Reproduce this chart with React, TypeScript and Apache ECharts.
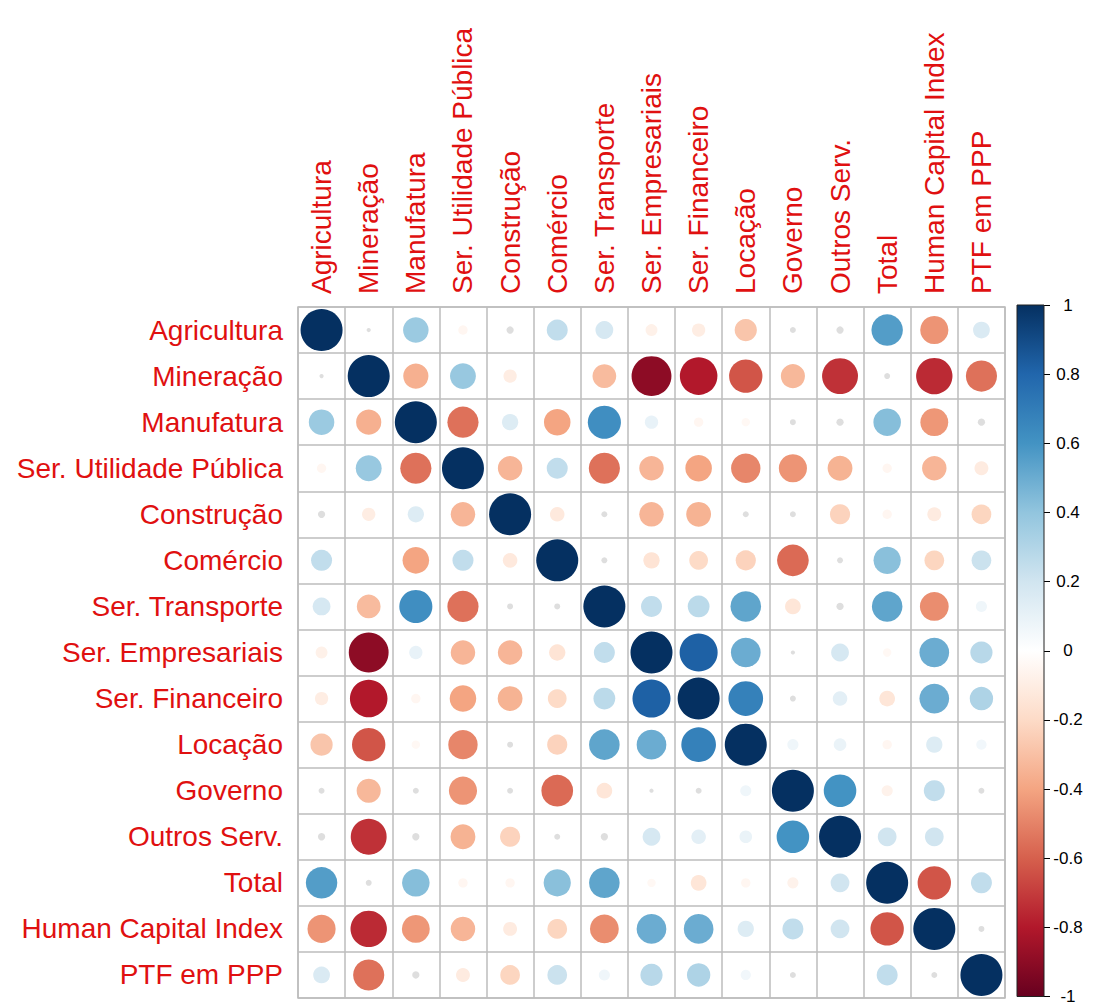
import React, { useEffect, useRef } from "react";
import * as echarts from "echarts";

const categories = [
  "Agricultura",
  "Mineração",
  "Manufatura",
  "Ser. Utilidade Pública",
  "Construção",
  "Comércio",
  "Ser. Transporte",
  "Ser. Empresariais",
  "Ser. Financeiro",
  "Locação",
  "Governo",
  "Outros Serv.",
  "Total",
  "Human Capital Index",
  "PTF em PPP",
];

// correlation rows (symmetric matrix)
const rowAgricultura = [1, 0.01, 0.37, -0.05, 0.03, 0.25, 0.18, -0.08, -0.1, -0.28, -0.02, -0.03, 0.56, -0.45, 0.16];
const rowMineracao = [0.01, 1, -0.36, 0.38, -0.1, 0.0, -0.32, -0.9, -0.8, -0.63, -0.33, -0.73, -0.02, -0.75, -0.55];
const rowManufatura = [0.37, -0.36, 1, -0.55, 0.15, -0.4, 0.62, 0.1, -0.05, -0.04, -0.02, -0.03, 0.43, -0.44, 0.03];
const rowUtilidade = [-0.05, 0.38, -0.55, 1, -0.34, 0.25, -0.55, -0.34, -0.4, -0.49, -0.45, -0.35, -0.05, -0.34, -0.11];
const rowConstrucao = [0.03, -0.1, 0.15, -0.34, 1, -0.12, -0.02, -0.34, -0.35, -0.02, -0.02, -0.23, -0.05, -0.11, -0.22];
const rowComercio = [0.25, 0.0, -0.4, 0.25, -0.12, 1, -0.02, -0.15, -0.2, -0.23, -0.57, -0.02, 0.42, -0.22, 0.22];
const rowTransporte = [0.18, -0.32, 0.62, -0.55, -0.02, -0.02, 1, 0.25, 0.27, 0.53, -0.14, -0.03, 0.53, -0.47, 0.07];
const rowEmpresariais = [-0.08, -0.9, 0.1, -0.34, -0.34, -0.15, 0.25, 1, 0.82, 0.5, 0.01, 0.18, -0.04, 0.5, 0.28];
const rowFinanceiro = [-0.1, -0.8, -0.05, -0.4, -0.35, -0.2, 0.27, 0.82, 1, 0.68, 0.02, 0.12, -0.14, 0.5, 0.31];
const rowLocacao = [-0.28, -0.63, -0.04, -0.49, -0.02, -0.23, 0.53, 0.5, 0.68, 1, 0.07, 0.09, -0.05, 0.15, 0.06];
const rowGoverno = [-0.02, -0.33, -0.02, -0.45, -0.02, -0.57, -0.14, 0.01, 0.02, 0.07, 1, 0.6, -0.07, 0.25, -0.02];
const rowOutros = [-0.03, -0.73, -0.03, -0.35, -0.23, -0.02, -0.03, 0.18, 0.12, 0.09, 0.6, 1, 0.2, 0.2, 0.0];
const rowTotal = [0.56, -0.02, 0.43, -0.05, -0.05, 0.42, 0.53, -0.04, -0.14, -0.05, -0.07, 0.2, 1, -0.63, 0.25];
const rowHCI = [-0.45, -0.75, -0.44, -0.34, -0.11, -0.22, -0.47, 0.5, 0.5, 0.15, 0.25, 0.2, -0.63, 1, 0.02];
const rowPTF = [0.16, -0.55, 0.03, -0.11, -0.22, 0.22, 0.07, 0.28, 0.31, 0.06, -0.02, 0.0, 0.25, 0.02, 1];

const matrix = [
  rowAgricultura, rowMineracao, rowManufatura, rowUtilidade, rowConstrucao,
  rowComercio, rowTransporte, rowEmpresariais, rowFinanceiro, rowLocacao,
  rowGoverno, rowOutros, rowTotal, rowHCI, rowPTF,
];

const palette = [
  "#67001F", "#B2182B", "#D6604D", "#F4A582", "#FDDBC7", "#FFFFFF",
  "#D1E5F0", "#92C5DE", "#4393C3", "#2166AC", "#053061",
];

const FONT = "'Liberation Sans', Arial, sans-serif";
const LABEL_RED = "#e01010";
const TINY = 0.04;

export default function App() {
  const ref = useRef<HTMLDivElement>(null);
  useEffect(() => {
    document.body.style.margin = "0";
    const chart = echarts.init(ref.current!, null, { renderer: "svg" });
    const cells: number[][] = [];
    const tinyCells: number[][] = [];
    matrix.forEach((row, i) =>
      row.forEach((v, j) => {
        if (v !== 0 && Math.abs(v) < TINY) tinyCells.push([j, i, v]);
        else cells.push([j, i, v]);
      })
    );

    const stops = palette
      .slice()
      .reverse()
      .map((c, k) => ({ offset: k / (palette.length - 1), color: c }));

    const sizeOf = (val: number[]) => 42 * Math.sqrt(Math.abs(val[2]));

    chart.setOption({
      animation: false,
      textStyle: { fontFamily: FONT },
      grid: [
        {
          left: 298, top: 307, width: 707, height: 691,
          show: true, borderColor: "#bdbdbd", borderWidth: 1.5,
        },
        { left: 1017, top: 305, width: 27, height: 693 },
      ],
      xAxis: [
        {
          gridIndex: 0,
          type: "category",
          data: categories,
          position: "top",
          axisLine: { show: false },
          axisTick: { show: false },
          axisLabel: {
            rotate: -90, interval: 0, fontSize: 28, color: LABEL_RED,
            fontFamily: FONT, margin: 13,
          },
          splitLine: { show: true, interval: 0, lineStyle: { color: "#bdbdbd", width: 1.5 } },
        },
        { gridIndex: 1, type: "category", data: ["bar"], show: false },
      ],
      yAxis: [
        {
          gridIndex: 0,
          type: "category",
          data: categories,
          inverse: true,
          axisLine: { show: false },
          axisTick: { show: false },
          axisLabel: { interval: 0, fontSize: 28, color: LABEL_RED, fontFamily: FONT, margin: 15 },
          splitLine: { show: true, interval: 0, lineStyle: { color: "#bdbdbd", width: 1.5 } },
        },
        {
          gridIndex: 1,
          type: "value",
          min: -1,
          max: 1,
          interval: 0.2,
          position: "right",
          axisLine: { show: false },
          axisTick: { show: true, length: 6, lineStyle: { color: "#000", width: 1 } },
          axisLabel: {
            fontSize: 17, color: "#000", fontFamily: FONT, margin: 24, align: "center",
            formatter: (v: number) => String(Math.round(v * 10) / 10),
          },
          splitLine: { show: false },
        },
      ],
      visualMap: {
        show: false,
        type: "continuous",
        min: -1,
        max: 1,
        dimension: 2,
        seriesIndex: 0,
        inRange: { color: palette },
      },
      series: [
        {
          type: "scatter",
          xAxisIndex: 0,
          yAxisIndex: 0,
          data: cells,
          symbol: "circle",
          symbolSize: sizeOf,
          silent: true,
          itemStyle: { opacity: 1 },
        },
        {
          type: "scatter",
          xAxisIndex: 0,
          yAxisIndex: 0,
          data: tinyCells,
          symbol: "circle",
          symbolSize: sizeOf,
          silent: true,
          itemStyle: { color: "#dedede", opacity: 1 },
        },
        {
          type: "custom",
          xAxisIndex: 1,
          yAxisIndex: 1,
          silent: true,
          data: [[0, 1]],
          renderItem: (params: any, api: any) => {
            const top = api.coord([0, 1]);
            const bot = api.coord([0, -1]);
            const w = api.size([1, 0])[0];
            return {
              type: "rect",
              shape: { x: top[0] - w / 2, y: top[1], width: w, height: bot[1] - top[1] },
              style: {
                fill: new echarts.graphic.LinearGradient(0, 0, 0, 1, stops),
                stroke: "#222",
                lineWidth: 1,
              },
            };
          },
        },
      ],
    });
    return () => chart.dispose();
  }, []);
  return <div ref={ref} style={{ width: 1097, height: 1005 }} />;
}
